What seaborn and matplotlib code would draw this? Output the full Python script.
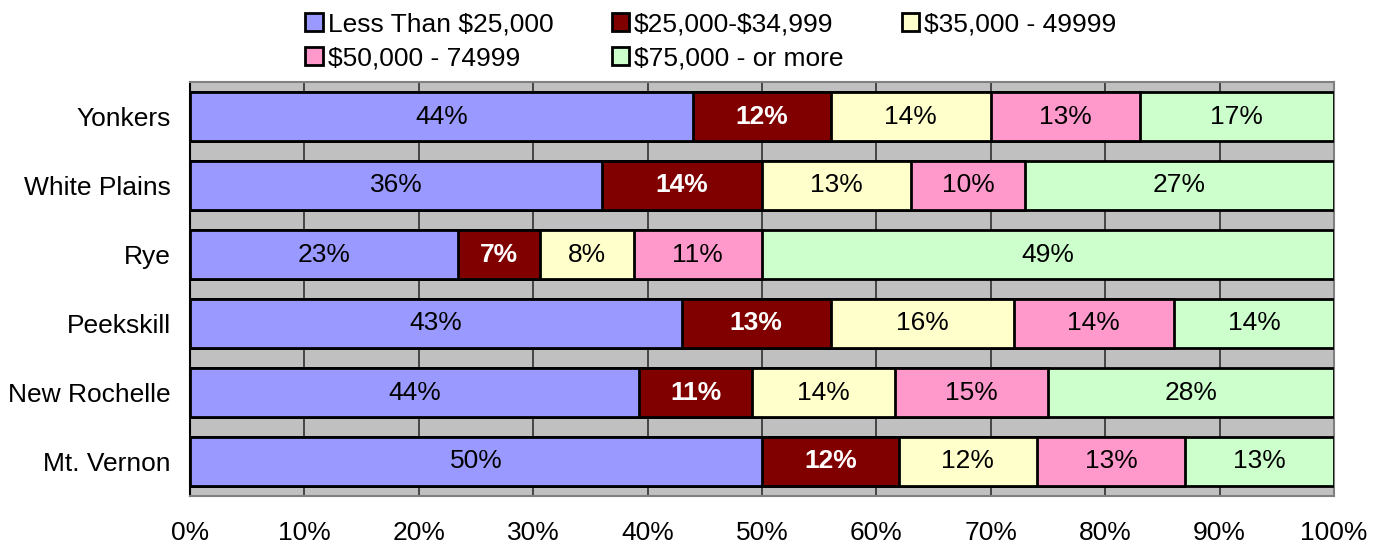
import numpy as np
import pandas as pd
import matplotlib
matplotlib.use("Agg")
import matplotlib.pyplot as plt
import seaborn as sns
from matplotlib.patches import Patch

# data (labels as printed; bars are drawn as shares of the row total)
cities = ["Yonkers", "White Plains", "Rye", "Peekskill", "New Rochelle", "Mt. Vernon"]
brackets = ["Less Than $25,000", "$25,000-$34,999", "$35,000 - 49999",
            "$50,000 - 74999", "$75,000 - or more"]
less_25k = [44, 36, 23, 43, 44, 50]
k25_35 = [12, 14, 7, 13, 11, 12]
k35_50 = [14, 13, 8, 16, 14, 12]
k50_75 = [13, 10, 11, 14, 15, 13]
k75_up = [17, 27, 49, 14, 28, 13]

colors = ["#9999FF", "#800000", "#FFFFCC", "#FF99CC", "#CCFFCC"]

sns.set_style("white")
plt.rcParams['font.family'] = ['Liberation Sans', 'DejaVu Sans']
plt.rcParams['text.color'] = 'black'
plt.rcParams['xtick.color'] = 'black'
plt.rcParams['ytick.color'] = 'black'

df = pd.DataFrame({b: v for b, v in zip(brackets, [less_25k, k25_35, k35_50, k50_75, k75_up])},
                  index=cities)
share = df.div(df.sum(axis=1), axis=0) * 100
cum = share.cumsum(axis=1)

fig = plt.figure(figsize=(13.82, 5.47), dpi=100)
ax = fig.add_axes([190 / 1382, 1 - 496 / 547, (1334 - 190) / 1382, (496 - 82) / 547])
ax.set_facecolor("#C0C0C0")

# stacked bars: draw the cumulative totals from the last bracket back to the first
for b, c in reversed(list(zip(brackets, colors))):
    sns.barplot(x=cum[b].values, y=cities, orient="h", color=c, saturation=1, width=0.7,
                edgecolor="black", linewidth=2, ax=ax, zorder=3)

fs = 19
# segment labels
for i, city in enumerate(cities):
    left = 0
    for j, b in enumerate(brackets):
        w = share.loc[city, b]
        if j == 1:
            ax.text(left + w / 2, i, f"{df.loc[city, b]}%", ha="center", va="center",
                    color="white", fontweight="bold", fontsize=fs, zorder=5)
        else:
            ax.text(left + w / 2, i, f"{df.loc[city, b]}%", ha="center", va="center",
                    color="black", fontsize=fs, zorder=5)
        left += w

ax.set_xlim(0, 100)
ax.set_ylim(len(cities) - 0.5, -0.5)
ax.set_xticks(np.arange(0, 101, 10))
ax.set_xticklabels([f"{t}%" for t in range(0, 101, 10)], fontsize=fs)
ax.xaxis.grid(True, color="#303030", linewidth=1.2, zorder=0)
ax.set_axisbelow(True)
ax.tick_params(axis="x", direction="out", length=8, width=1.2, color="black", pad=10)
ax.tick_params(axis="y", which="major", length=0, labelsize=fs, pad=14)
ax.set_yticks(np.arange(-0.5, len(cities), 1), minor=True)
ax.tick_params(axis="y", which="minor", direction="out", length=6, width=1.2, color="black")
ax.set_xlabel("")
ax.set_ylabel("")

for side in ["top", "right", "bottom"]:
    ax.spines[side].set_color("#808080")
    ax.spines[side].set_linewidth(1.5)
ax.spines["left"].set_color("black")
ax.spines["left"].set_linewidth(1.5)

handles = [Patch(facecolor=c, edgecolor="black", linewidth=2) for c in colors]
order = [0, 3, 1, 4, 2]
labels = [brackets[k].replace("$", r"\$") for k in order]
fig.legend([handles[k] for k in order], labels,
           loc="upper left", bbox_to_anchor=(287 / 1382, 1 + 6 / 547), ncol=3,
           frameon=False, fontsize=fs, handlelength=0.65, handleheight=0.65,
           handletextpad=0.2, columnspacing=2.2, labelspacing=0.38, borderpad=0.2)

fig.savefig("out.png", dpi=100)
